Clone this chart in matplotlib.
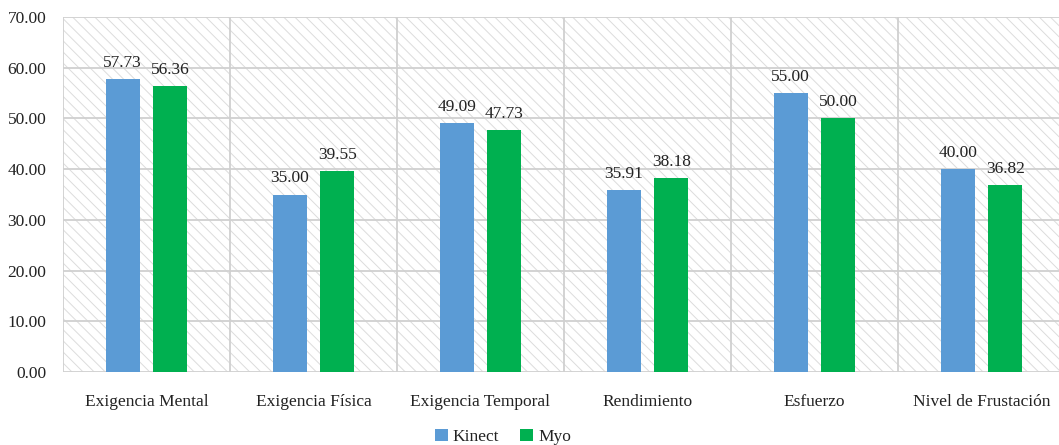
import matplotlib.pyplot as plt
import matplotlib.patches as mpatches
import numpy as np

categorias = ["Exigencia Mental", "Exigencia Física", "Exigencia Temporal",
              "Rendimiento", "Esfuerzo", "Nivel de Frustación"]
kinect = [57.73, 35.00, 49.09, 35.91, 55.00, 40.00]
myo = [56.36, 39.55, 47.73, 38.18, 50.00, 36.82]
series = ["Kinect", "Myo"]
colores = ["#5B9BD5", "#00B050"]

plt.rcParams['font.family'] = ['Liberation Serif', 'DejaVu Serif']
plt.rcParams['hatch.linewidth'] = 0.7
tam = 12.5

fig = plt.figure(figsize=(10.59, 4.45), dpi=100)
ax = fig.add_axes([63 / 1059, 73 / 445, 1002 / 1059, 355 / 445])

# fondo rayado
fondo = mpatches.Rectangle((0, 0), 1, 1, transform=ax.transAxes, facecolor='white',
                           edgecolor='#dcdcdc', hatch='\\\\\\', linewidth=0, zorder=0)
ax.add_patch(fondo)

x = np.arange(len(categorias))
ancho = 0.205
desp = 0.142
for vals, nombre, col, d in zip([kinect, myo], series, colores, [-desp, desp]):
    barras = ax.bar(x + d, vals, ancho, color=col, label=nombre, zorder=3)
    for b, v in zip(barras, vals):
        ax.text(b.get_x() + b.get_width() / 2, v + 1.6, f"{v:.2f}",
                ha='center', va='bottom', fontsize=tam, color='#222222', zorder=4)

ax.set_xlim(-0.5, len(categorias) - 0.5)
ax.set_ylim(0, 70)
ax.set_yticks(np.arange(0, 71, 10))
ax.set_yticklabels([f"{v:.2f}" for v in np.arange(0, 71, 10)], fontsize=tam)
ax.set_xticks(x)
ax.set_xticklabels(categorias, fontsize=tam)
ax.tick_params(length=0, pad=16, axis='x', colors='#222222')
ax.tick_params(length=0, pad=12, axis='y', colors='#222222')

ax.yaxis.grid(True, color='#d0d0d0', linewidth=1.3, zorder=1)
for xb in np.arange(-0.5, len(categorias), 1.0):
    ax.axvline(xb, color='#d0d0d0', linewidth=1.3, zorder=1)
for s in ax.spines.values():
    s.set_visible(False)
ax.set_axisbelow(True)

leg = fig.legend(loc='lower center', bbox_to_anchor=(503 / 1059, -0.035), ncol=2, frameon=False,
                 fontsize=tam, handlelength=0.75, handleheight=0.75, handletextpad=0.3,
                 columnspacing=1.2)
for t in leg.get_texts():
    t.set_fontfamily('Liberation Serif')
    t.set_color('#222222')

fig.savefig("out.png", dpi=100)
